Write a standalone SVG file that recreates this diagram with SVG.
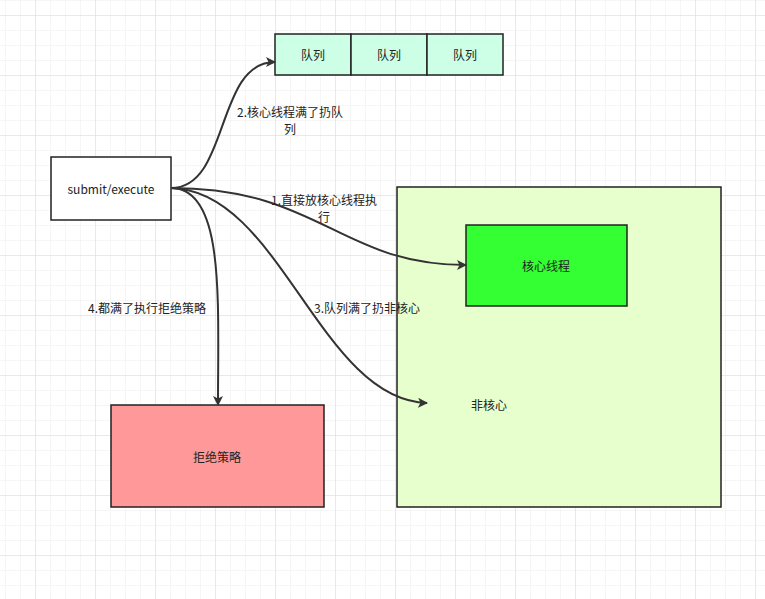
<svg xmlns="http://www.w3.org/2000/svg" width="765" height="599" viewBox="0 0 765 599">
<defs>
<pattern id="g" x="35" y="15" width="15" height="15" patternUnits="userSpaceOnUse"><path d="M0,0H15M0,0V15" stroke="#ededed" stroke-width="1" fill="none"/></pattern>
<pattern id="G" x="35" y="15" width="60" height="60" patternUnits="userSpaceOnUse"><path d="M0,0H60M0,0V60" stroke="#dcdcdc" stroke-width="1" fill="none"/></pattern>
<marker id="a" viewBox="0 0 10 10" refX="9" refY="5" markerWidth="10" markerHeight="10" markerUnits="userSpaceOnUse" orient="auto"><path d="M0,0L10,5L0,10L2.5,5Z" fill="#333"/></marker>
<style>
text{font-family:"Microsoft YaHei","Noto Sans CJK SC",sans-serif;font-size:12px;fill:#222;text-anchor:middle}
.b{stroke:#222;stroke-width:1.5}
.c{fill:none;stroke:#333;stroke-width:2;marker-end:url(#a)}
</style>
</defs>
<rect width="765" height="599" fill="#fff"/>
<rect width="765" height="599" fill="url(#g)"/>
<rect width="765" height="599" fill="url(#G)"/>
<g id="pool"><rect class="b" x="397" y="187" width="324" height="320" fill="#e6ffcc"/></g>
<g id="queue">
<rect class="b" x="275" y="34" width="76" height="41" fill="#ccffe6"/><text x="313" y="60">队列</text>
<rect class="b" x="351" y="34" width="76" height="41" fill="#ccffe6"/><text x="389" y="60">队列</text>
<rect class="b" x="427" y="34" width="76" height="41" fill="#ccffe6"/><text x="465" y="60">队列</text>
</g>
<g id="submit"><rect class="b" x="51" y="157" width="120" height="63" fill="#fff"/><text x="111" y="194">submit/execute</text></g>
<g id="core"><rect class="b" x="466" y="225" width="161" height="81" fill="#33ff33"/><text x="546" y="271">核心线程</text></g>
<g id="noncore"><text x="489" y="410">非核心</text></g>
<g id="reject"><rect class="b" x="111" y="405" width="213" height="102" fill="#ff9999"/><text x="217" y="462">拒绝策略</text></g>
<g id="connectors">
<path class="c" d="M171,188 C230,188 215,62 275,62"/>
<path class="c" d="M171,188 C320,188 340,265 466,265"/>
<path class="c" d="M171,188 C280,190 320,400 427,403"/>
<path class="c" d="M171,188 C225,188 218,300 218,405"/>
<text x="290" y="117">2.核心线程满了扔队</text><text x="290" y="134">列</text>
<text x="324" y="205">1.直接放核心线程执</text><text x="324" y="222">行</text>
<text x="147" y="313">4.都满了执行拒绝策略</text>
<text x="367" y="313">3.队列满了扔非核心</text>
</g>
</svg>
